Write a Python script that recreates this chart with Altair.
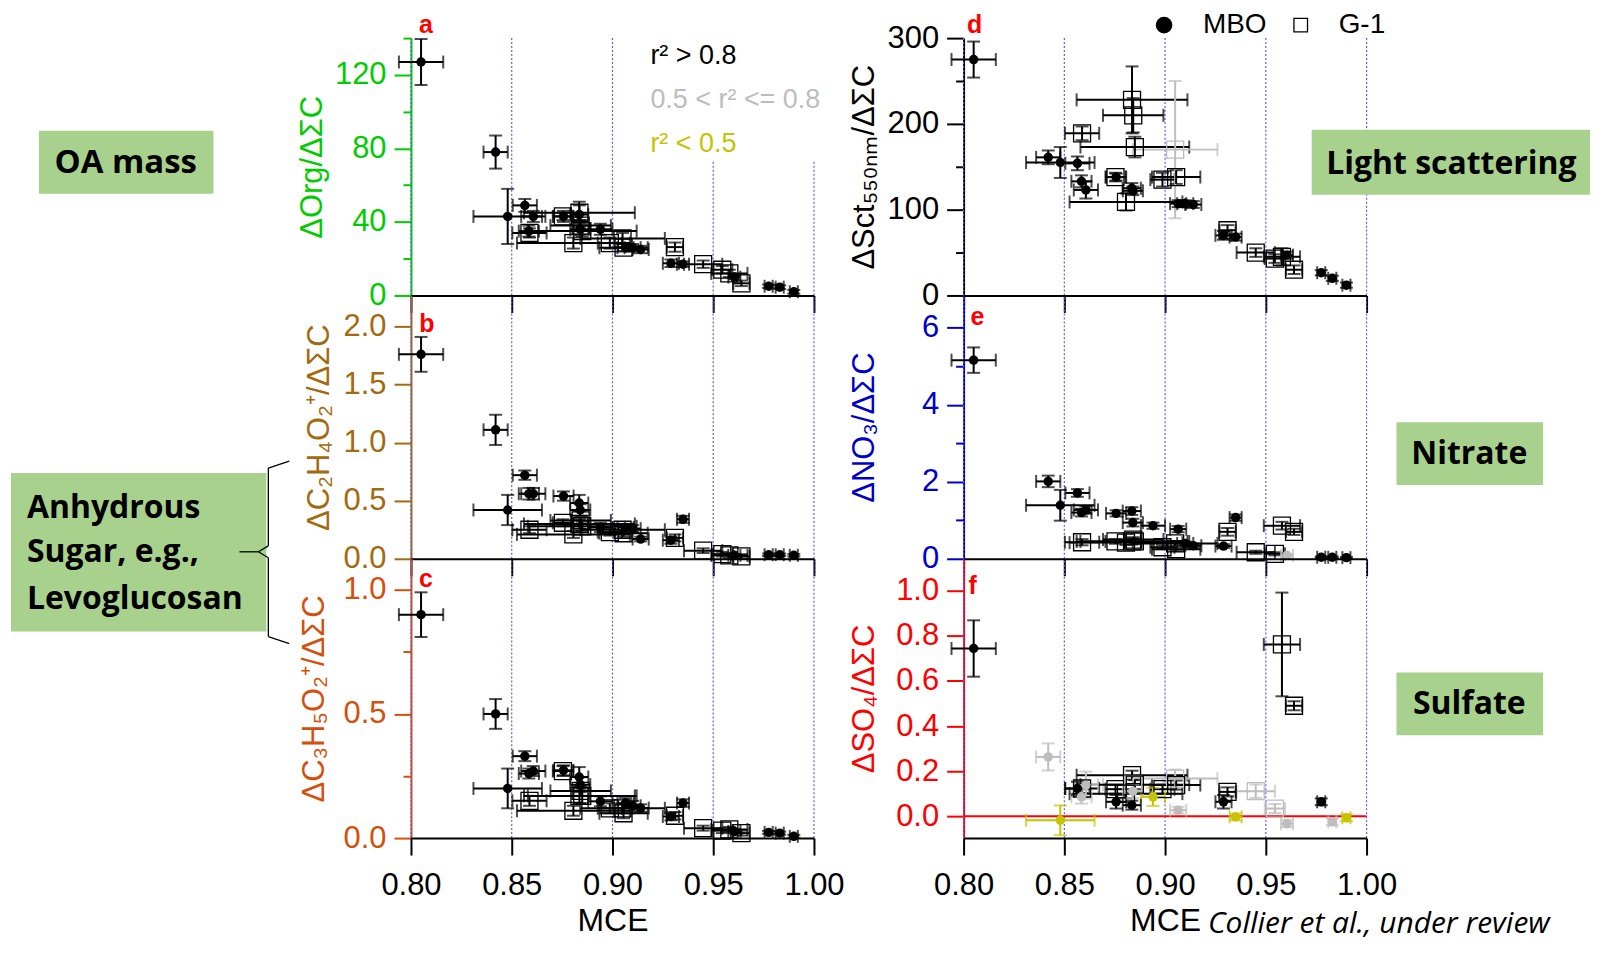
import altair as alt
import pandas as pd

# ---------------- data ----------------
X_TICKS = [0.80, 0.85, 0.90, 0.95, 1.00]
GRID_X = [0.80, 0.85, 0.90, 0.95, 1.00]

# MBO fires (filled circles)
MBO_MCE = [0.805, 0.842, 0.848, 0.8565, 0.8585, 0.8607, 0.8757, 0.8835, 0.8840, 0.894,
           0.9065, 0.910, 0.914, 0.929, 0.935, 0.9605, 0.9775, 0.983, 0.990]
MBO_XERR = [0.011, 0.006, 0.017, 0.006, 0.005, 0.006, 0.005, 0.0045, 0.005, 0.006,
            0.004, 0.004, 0.004, 0.004, 0.003, 0.003, 0.002, 0.002, 0.002]

A_MBO = [127, 78, 43, 49, 35, 43, 43, 44, 36, 36, 26, 26, 25, 17.5, 17, 10, 5, 4.5, 2]
A_MBO_ERR = [12.5, 9, 15, 3.5, 3, 3, 3, 7, 3, 3, 2, 2, 2, 2, 1.5, 1.2, 1, 1, 1]
B_MBO = [1.76, 1.11, 0.42, 0.72, 0.56, 0.56, 0.54, 0.48, 0.42, 0.27, 0.27, 0.26, 0.17,
         0.16, 0.34, 0.03, 0.035, 0.035, 0.03]
B_MBO_ERR = [0.15, 0.13, 0.13, 0.04, 0.05, 0.05, 0.04, 0.07, 0.05, 0.04, 0.03, 0.03,
             0.02, 0.03, 0.03, 0.01, 0.01, 0.01, 0.01]
C_MBO = [0.90, 0.50, 0.20, 0.33, 0.26, 0.27, 0.273, 0.246, 0.215, 0.148, 0.141, 0.13,
         0.121, 0.087, 0.141, 0.027, 0.023, 0.02, 0.007]
C_MBO_ERR = [0.09, 0.06, 0.08, 0.02, 0.02, 0.02, 0.02, 0.04, 0.03, 0.02, 0.02, 0.02,
             0.015, 0.015, 0.015, 0.008, 0.006, 0.006, 0.006]
D_MBO = [275, 161, 155, 154, 133, 123, 138, 125, 122, None, 107, 107, 106, 70, 68, 47,
         26.5, 20, 12]
D_MBO_ERR = [21, 8, 18, 8, 7, 10, 4, 6, 5, 0, 4, 4, 4, 5, 4, 4, 3, 3, 3]
E_MBO = [5.16, 2.01, 1.39, 1.71, 1.2, 1.27, 1.18, 1.24, 0.94, 0.86, 0.77, 0.40, 0.34,
         0.33, 1.07, 0.09, 0.04, 0.04, 0.03]
E_MBO_ERR = [0.33, 0.15, 0.4, 0.1, 0.1, 0.1, 0.08, 0.1, 0.1, 0.08, 0.08, 0.05, 0.05,
             0.05, 0.08, 0.03, 0.02, 0.02, 0.02]
E_MBO_R2 = ["k"] * 15 + ["g", "k", "k", "k"]
F_MBO = [0.744, 0.263, -0.018, 0.123, 0.086, 0.138, 0.064, 0.049, 0.111, 0.086, 0.027,
         None, None, 0.064, -0.003, -0.033, 0.064, -0.025, -0.007]
F_MBO_ERR = [0.125, 0.06, 0.066, 0.03, 0.03, 0.06, 0.03, 0.02, 0.03, 0.04, 0.015, 0, 0,
             0.03, 0.015, 0.015, 0.015, 0.015, 0.015]
F_MBO_R2 = ["k", "g", "y", "k", "g", "g", "k", "k", "g", "y", "g", "k", "k", "k", "y",
            "g", "k", "g", "y"]

# G-1 fires (open squares)
G1_MCE = [0.8588, 0.8754, 0.8836, 0.8842, 0.8806, 0.885, 0.8987, 0.905, 0.9055, 0.931,
          0.945, 0.9545, 0.958, 0.964]
G1_XERR = [0.0085, 0.005, 0.0275, 0.015, 0.028, 0.027, 0.006, 0.021, 0.012, 0.004,
           0.0095, 0.005, 0.009, 0.004]

A_G1 = [34, 43, 45, 38, 28.5, 35, 28.5, 31, 26, 26.3, 17, 14, 12, 6.6]
A_G1_ERR = [2.5, 2, 4, 3, 3, 3, 3, 3, 2, 2.5, 2, 2, 2, 1.5]
B_G1 = [0.25, 0.31, 0.30, 0.33, 0.21, 0.28, 0.23, 0.25, 0.22, 0.18, 0.07, 0.04, 0.03, 0.02]
B_G1_ERR = [0.03, 0.03, 0.04, 0.03, 0.03, 0.04, 0.03, 0.03, 0.03, 0.03, 0.02, 0.02, 0.02, 0.02]
C_G1 = [0.15, 0.27, 0.17, 0.19, 0.11, 0.17, 0.12, 0.12, 0.10, 0.09, 0.04, 0.03, 0.035, 0.02]
C_G1_ERR = [0.02, 0.02, 0.03, 0.02, 0.02, 0.03, 0.02, 0.02, 0.02, 0.015, 0.01, 0.01, 0.01, 0.01]
D_G1 = [189, 138, 228, 210, 109, 173, 135, 170, 138, 76, 50, 43, 45, 30]
D_G1_ERR = [8, 5, 39, 20, 10, 12, 8, 80, 8, 6, 5, 5, 10, 5]
D_G1_R2 = ["k"] * 7 + ["g"] + ["k"] * 6
E_G1 = [0.43, 0.45, 0.45, 0.5, 0.42, 0.45, 0.3, 0.4, 0.25, 0.7, 0.17, 0.13, 0.86, 0.7]
E_G1_ERR = [0.08, 0.06, 0.08, 0.06, 0.06, 0.06, 0.05, 0.06, 0.05, 0.1, 0.04, 0.04, 0.1, 0.08]
F_G1 = [0.123, 0.12, 0.182, 0.14, 0.10, 0.14, 0.12, 0.167, 0.138, 0.108, 0.111, 0.034,
        0.762, 0.49]
F_G1_ERR = [0.02, 0.02, 0.02, 0.03, 0.02, 0.02, 0.02, 0.04, 0.02, 0.02, 0.03, 0.02, 0.23, 0.02]
F_G1_R2 = ["k", "k", "k", "g", "k", "k", "k", "g", "k", "k", "g", "g", "k", "k"]

R2_COLORS = {"k": "#000000", "g": "#bdbdbd", "y": "#c4c400"}

FONT = "Liberation Sans"
BOXFONT = "Open Sans"
GREEN_BOX = "#a9d18e"
GRID_COLOR = "#5c5cff"
W = 404
ONE = pd.DataFrame({"k": [0]})
NOVIEW = alt.ViewBackground(stroke="transparent", strokeWidth=0, strokeOpacity=0)


def frame(mce, xerr, yv, ye, r2):
    df = pd.DataFrame({"mce": mce, "xe": xerr, "y": yv, "ye": ye, "r2": r2})
    df = df.dropna(subset=["y"]).copy()
    df["xlo"] = df["mce"] - df["xe"]
    df["xhi"] = df["mce"] + df["xe"]
    df["ylo"] = df["y"] - df["ye"]
    df["yhi"] = df["y"] + df["ye"]
    df["col"] = df["r2"].map(R2_COLORS)
    return df


def txt(x, y, s, size, color="black", weight="normal", align="center", font=FONT, style="normal"):
    return alt.Chart(ONE).mark_text(
        text=s, fontSize=size, color=color, fontWeight=weight, align=align,
        baseline="middle", font=font, fontStyle=style
    ).encode(x=alt.value(x), y=alt.value(y))


def box(x1, y1, x2, y2, color=GREEN_BOX):
    return alt.Chart(ONE).mark_rect(color=color).encode(
        x=alt.value(x1), x2=alt.value(x2), y=alt.value(y1), y2=alt.value(y2))


def seg(x1, y1, x2, y2):
    return alt.Chart(ONE).mark_rule(color="black", strokeWidth=1.3).encode(
        x=alt.value(x1), x2=alt.value(x2), y=alt.value(y1), y2=alt.value(y2))


def panel(mbo, g1, ydom, yvalues, major, fmt, color, title, title_x, height,
          grid_top, bottom, extras, zero_line=False):
    xscale = alt.Scale(domain=[0.8, 1.0], nice=False, zero=False)
    xaxis = alt.Axis(
        values=X_TICKS, format=".2f", labels=bottom, title="MCE" if bottom else "",
        grid=False, domainColor="black", domainWidth=2, tickColor="black", tickWidth=2,
        tickSize=17, labelFontSize=31, labelPadding=16, labelFlush=False, labelOverlap=False,
        titleFontSize=32, titleFontWeight="normal", titlePadding=5, labelColor="black",
        titleColor="black", labelFont=FONT, titleFont=FONT, zindex=1)
    test = f"abs(datum.value / {major} - round(datum.value / {major})) < 0.001"
    yscale = alt.Scale(domain=ydom, nice=False, zero=False)
    yaxis = alt.Axis(
        values=yvalues, format=fmt, labelExpr=f"({test}) ? datum.label : ''",
        tickSize={"condition": {"test": test, "value": 17}, "value": 8},
        grid=False, domainColor=color, domainWidth=2, tickColor=color, tickWidth=2,
        labelColor=color, labelFontSize=31, labelPadding=8, labelFont=FONT,
        labelFlush=False, labelOverlap=False,
        title=title, titleColor=color, titleFontSize=31, titleFontWeight="normal",
        titleFont=FONT, titleX=title_x, titleBaseline="alphabetic")

    def X(f):
        return alt.X(f, type="quantitative", scale=xscale, axis=xaxis)

    def Y(f):
        return alt.Y(f, type="quantitative", scale=yscale, axis=yaxis)

    col = alt.Color("col:N", scale=None)
    grid = pd.DataFrame({"x": GRID_X, "y0": [ydom[0]] * len(GRID_X), "y1": grid_top})
    layers = [
        alt.Chart(grid).mark_rule(color=GRID_COLOR, strokeDash=[2, 2], strokeWidth=1.2).encode(
            x=X("x"), y=Y("y0"), y2="y1:Q")
    ]
    if zero_line:
        zl = pd.DataFrame({"x0": [0.8], "x1": [1.0], "y": [0.0]})
        layers.append(alt.Chart(zl).mark_rule(color="#ff0000", strokeWidth=2).encode(
            x=X("x0"), x2="x1:Q", y=Y("y")))
    for df in (g1, mbo):
        layers.append(alt.Chart(df).mark_errorbar(ticks=True, size=13, thickness=2).encode(
            x=X("xlo"), x2="xhi:Q", y=Y("y"), color=col))
        layers.append(alt.Chart(df).mark_errorbar(ticks=True, size=13, thickness=2).encode(
            y=Y("ylo"), y2="yhi:Q", x=X("mce"), color=col))
    layers.append(alt.Chart(g1).mark_point(shape="square", filled=False, size=290,
                                           strokeWidth=1.3, opacity=1).encode(
        x=X("mce"), y=Y("y"), color=col))
    layers.append(alt.Chart(mbo).mark_point(shape="circle", filled=True, size=90,
                                            opacity=1).encode(
        x=X("mce"), y=Y("y"), color=col))
    layers.extend(extras)
    return alt.layer(*layers).properties(width=W, height=height, view=NOVIEW)


def mb(yv, ye, r2=None):
    return frame(MBO_MCE, MBO_XERR, yv, ye, r2 if r2 else ["k"] * len(MBO_MCE))


def gg(yv, ye, r2=None):
    return frame(G1_MCE, G1_XERR, yv, ye, r2 if r2 else ["k"] * len(G1_MCE))


RED = "#ff0000"
LABEL = dict(size=25, color=RED, weight="bold")
BOXSIZE = 32

a_extras = [
    txt(15, -13, "a", **LABEL),
    txt(240, 18, "r² > 0.8", 27, align="left"),
    txt(240, 62, "0.5 < r² <= 0.8", 27, color="#bdbdbd", align="left"),
    txt(240, 106, "r² < 0.5", 27, color="#c4c400", align="left"),
    box(-373, 93, -198, 156),
    txt(-286, 125, "OA mass", 33, weight="bold", font=BOXFONT),
    box(-401, 436, -145, 595),
    txt(-385, 471, "Anhydrous", BOXSIZE, weight="bold", font=BOXFONT, align="left"),
    txt(-385, 515, "Sugar, e.g.,", BOXSIZE, weight="bold", font=BOXFONT, align="left"),
    txt(-385, 562, "Levoglucosan", BOXSIZE, weight="bold", font=BOXFONT, align="left"),
    seg(-143, 431, -122, 424),
    seg(-143, 431, -143, 509),
    seg(-143, 509, -153, 515),
    seg(-153, 515, -143, 521),
    seg(-143, 521, -143, 600),
    seg(-143, 600, -122, 607),
    seg(-172, 515, -153, 515),
]
b_extras = [txt(16, 29, "b", **LABEL)]
c_extras = [txt(15, 20, "c", **LABEL)]
d_extras = [
    txt(11, -13, "d", **LABEL),
    alt.Chart(ONE).mark_point(shape="circle", filled=True, size=275, color="black",
                              opacity=1).encode(x=alt.value(201), y=alt.value(-13)),
    txt(240, -13, "MBO", 28, align="left"),
    alt.Chart(ONE).mark_point(shape="square", filled=False, size=185, color="black",
                              strokeWidth=1.3, opacity=1).encode(x=alt.value(338), y=alt.value(-13)),
    txt(376, -13, "G-1", 28, align="left"),
    box(349, 92, 628, 157),
    txt(489, 126, "Light scattering", BOXSIZE, weight="bold", font=BOXFONT),
    box(434, 385, 581, 448),
    txt(507, 417, "Nitrate", BOXSIZE, weight="bold", font=BOXFONT),
    box(434, 636, 581, 699),
    txt(507, 668, "Sulfate", BOXSIZE, weight="bold", font=BOXFONT),
]
e_extras = [txt(14, 22, "e", **LABEL)]
f_extras = [
    txt(9, 27, "f", **LABEL),
    txt(245, 366, "Collier et al., under review", 30, align="left", font=BOXFONT, style="italic"),
]

pa = panel(mb(A_MBO, A_MBO_ERR), gg(A_G1, A_G1_ERR), [0, 140],
           [0, 20, 40, 60, 80, 100, 120, 140], 40, "d", "#00cc00", "ΔOrg/ΔΣC", -90, 258,
           [140, 140, 140, 73, 73], False, a_extras)
pb = panel(mb(B_MBO, B_MBO_ERR), gg(B_G1, B_G1_ERR), [0, 2.267],
           [0, 0.5, 1.0, 1.5, 2.0], 0.5, ".1f", "#a36b0f", "ΔC₂H₄O₂⁺/ΔΣC", -83, 264,
           [2.267] * 5, False, b_extras)
pc = panel(mb(C_MBO, C_MBO_ERR), gg(C_G1, C_G1_ERR), [0, 1.125],
           [0, 0.25, 0.5, 0.75, 1.0], 0.5, ".1f", "#d4500b", "ΔC₃H₅O₂⁺/ΔΣC", -88, 280,
           [1.125] * 5, True, c_extras)
pd_ = panel(mb(D_MBO, D_MBO_ERR), gg(D_G1, D_G1_ERR, D_G1_R2), [0, 300],
            [0, 50, 100, 150, 200, 250, 300], 100, "d", "#000000", "ΔSct₅₅₀ₙₘ/ΔΣC", -90, 258,
            [300] * 5, False, d_extras)
pe = panel(mb(E_MBO, E_MBO_ERR, E_MBO_R2), gg(E_G1, E_G1_ERR), [0, 6.84],
           [0, 1, 2, 3, 4, 5, 6], 2, "d", "#0000cc", "ΔNO₃/ΔΣC", -90, 264,
           [6.84] * 5, False, e_extras)
pf = panel(mb(F_MBO, F_MBO_ERR, F_MBO_R2), gg(F_G1, F_G1_ERR, F_G1_R2), [-0.097, 1.142],
           [0, 0.2, 0.4, 0.6, 0.8, 1.0], 0.2, ".1f", "#ff0000", "ΔSO₄/ΔΣC", -90, 280,
           [1.142] * 5, True, f_extras, zero_line=True)

left = alt.vconcat(pa, pb, pc, spacing=0, bounds="flush").resolve_scale(
    x="independent", y="independent")
right = alt.vconcat(pd_, pe, pf, spacing=0, bounds="flush").resolve_scale(
    x="independent", y="independent")
chart = alt.hconcat(left, right, spacing=W + 150, bounds="flush").resolve_scale(
    x="independent", y="independent").properties(
    padding={"left": 3, "top": 2, "right": 0, "bottom": 3},
    background="white",
).configure_view(stroke="transparent", strokeWidth=0, strokeOpacity=0).configure(font=FONT)

chart.save("out.html", embed_options={"renderer": "svg", "actions": False})
